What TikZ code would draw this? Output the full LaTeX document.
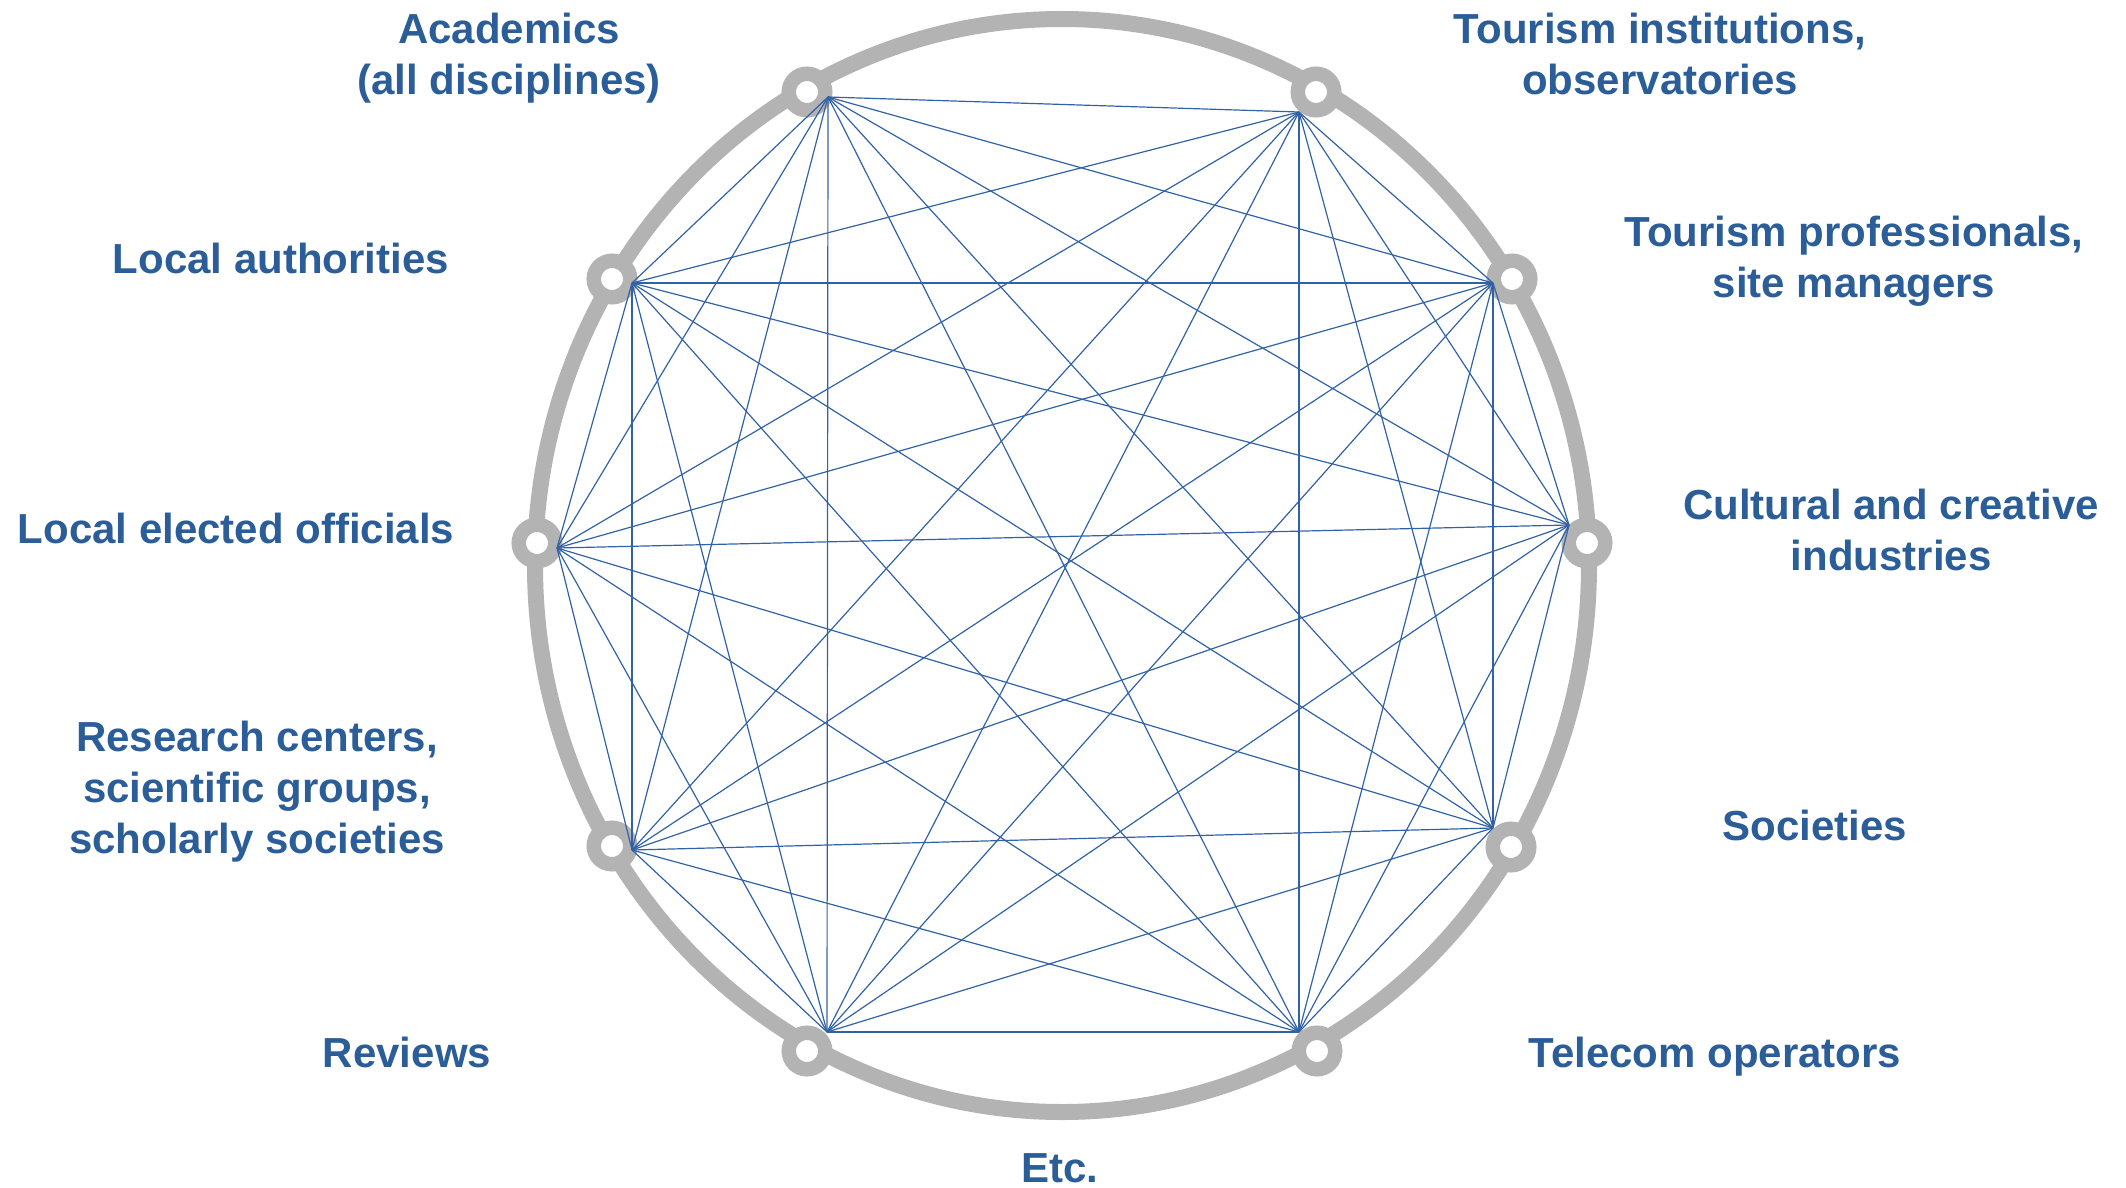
\documentclass[tikz,border=0pt]{standalone}
\usepackage{fontspec}
\setmainfont{Liberation Sans}
\definecolor{ringgray}{RGB}{179,179,179}
\definecolor{txtblue}{RGB}{43,94,152}
\definecolor{lineblue}{RGB}{50,98,166}
\begin{document}
\begin{tikzpicture}[x=0.5pt,y=-0.5pt,
  lbl/.style={font=\fontsize{21}{25.5}\selectfont\bfseries, text=txtblue, align=center, anchor=north, inner sep=0pt},
  port/.style={circle, draw=ringgray, line width=7.25pt, fill=white, inner sep=0pt, minimum size=18.25pt},
  link/.style={draw=lineblue, line width=0.6pt}]
\useasboundingbox (0,0) rectangle (2126,1188);
% ring
\draw[ringgray, line width=8pt] (1062,565.5) ellipse [x radius=527, y radius=546.5];
% ports
\node[port] (n1)  at (807,92)   {};
\node[port] (n2)  at (1316,92)  {};
\node[port] (n3)  at (1512,279) {};
\node[port] (n4)  at (1587,543) {};
\node[port] (n5)  at (1511,847) {};
\node[port] (n6)  at (1317,1051) {};
\node[port] (n7)  at (807,1051) {};
\node[port] (n8)  at (612,846) {};
\node[port] (n9)  at (537,543) {};
\node[port] (n10) at (612,279) {};
% hubs
\coordinate (h1)  at (828,97);
\coordinate (h2)  at (1299,112);
\coordinate (h3)  at (1493,283);
\coordinate (h4)  at (1569,525);
\coordinate (h5)  at (1493,828);
\coordinate (h6)  at (1299,1032);
\coordinate (h7)  at (827,1032);
\coordinate (h8)  at (632,850);
\coordinate (h9)  at (557,548);
\coordinate (h10) at (632,283);
% links (complete graph)
\foreach \i [evaluate=\i as \k using int(\i+1)] in {1,...,9} {
  \foreach \j in {\k,...,10} {
    \draw[link] (h\i) -- (h\j);
  }
}
% labels
\node[lbl] (t1)  at (509,13)   {Academics\\(all disciplines)};
\node[lbl] (t2)  at (1660,13)  {Tourism institutions,\\observatories};
\node[lbl] (t3)  at (1854,216) {Tourism professionals,\\site managers};
\node[lbl] (t4)  at (1891,489) {Cultural and creative\\industries};
\node[lbl] (t5)  at (1815,810) {Societies};
\node[lbl] (t6)  at (1715,1037) {Telecom operators};
\node[lbl] (t7)  at (1060,1153) {Etc.};
\node[lbl] (t8)  at (407,1037) {Reviews};
\node[lbl] (t9)  at (257,721)  {Research centers,\\scientific groups,\\scholarly societies};
\node[lbl] (t10) at (236,513)  {Local elected officials};
\node[lbl] (t11) at (281,243)  {Local authorities};
\end{tikzpicture}
\end{document}
